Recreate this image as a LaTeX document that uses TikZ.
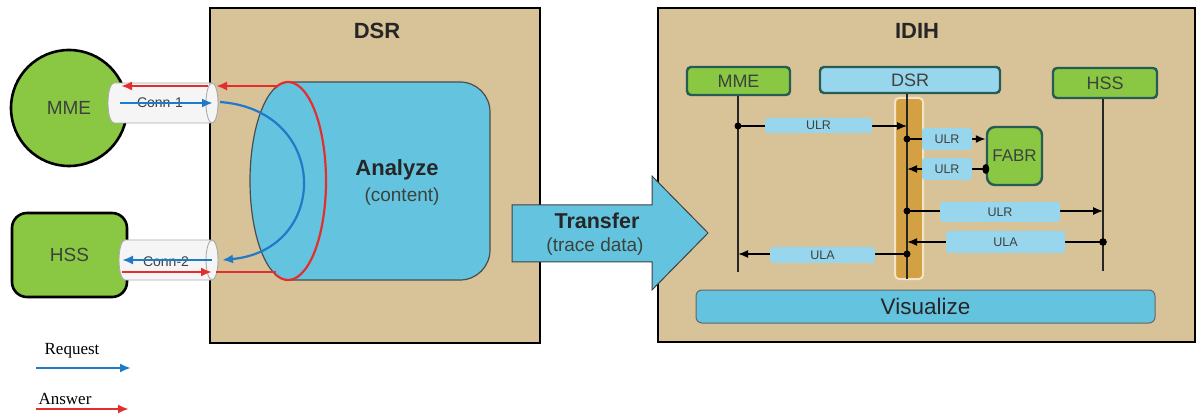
\documentclass[tikz,border=0pt]{standalone}
\usepackage{fontspec}
\setmainfont{Liberation Sans}
\newfontfamily\serifx{Liberation Serif}
\usetikzlibrary{arrows.meta}
\definecolor{tanbg}{RGB}{216,194,152}
\definecolor{cyanA}{RGB}{100,196,224}
\definecolor{cyanL}{RGB}{152,214,238}
\definecolor{greenA}{RGB}{138,200,68}
\definecolor{tealb}{RGB}{38,92,84}
\definecolor{orangeB}{RGB}{212,160,68}
\definecolor{creamB}{RGB}{242,228,196}
\definecolor{reqblue}{RGB}{32,122,200}
\definecolor{ansred}{RGB}{228,46,46}
\definecolor{txtg}{RGB}{60,66,60}
\tikzset{
  bigbox/.style={fill=tanbg,draw=black,line width=2.4pt},
  hdr/.style={draw=tealb,line width=2.4pt,rounded corners=4pt,text=txtg,font=\fontsize{18}{19}\selectfont,inner sep=0pt},
  lbl/.style={fill=cyanL,rounded corners=3pt,inner sep=0pt,text=txtg,font=\fontsize{12.5}{13}\selectfont},
  life/.style={line width=2pt,draw=black!85},
  msg/.style={line width=1.1pt,-{Latex[length=10pt,width=8pt]}},
  msgb/.style={line width=1.7pt,-{Latex[length=10pt,width=8pt]}},
  dotm/.style={fill=black},
  req/.style={draw=reqblue,line width=2.2pt,-{Latex[length=11pt,width=9pt]}},
  ans/.style={draw=ansred,line width=2.6pt,-{Latex[length=11pt,width=9pt]}},
  cyl/.style={fill=gray!8,draw=gray!65,line width=0.9pt},
  cyltxt/.style={text=txtg,font=\fontsize{14}{15}\selectfont,inner sep=0pt},
  bigtxt/.style={font=\bfseries\fontsize{22}{24}\selectfont,text=black!85},
  subtxt/.style={font=\fontsize{19}{21}\selectfont,text=txtg},
  legtxt/.style={font=\serifx\fontsize{17}{18}\selectfont}
}
\begin{document}
\begin{tikzpicture}[x=1pt,y=-1pt]
\useasboundingbox (0,0) rectangle (1197,414);
\fill[white] (0,0) rectangle (1197,414);

% ---------- left DSR ----------
\draw[bigbox] (210,8) rectangle (540,343);
\node[bigtxt] (dsrT) at (377,31) {DSR};

\path[fill=cyanA,draw=black!70,line width=1.2pt]
  (288,82) [rounded corners=30pt] -- (490,82) -- (490,280) [sharp corners] -- (288,280)
  arc[start angle=90,end angle=270,x radius=38,y radius=99] -- cycle;
\node[bigtxt] (anaT) at (397,170) {Analyze};
\node[subtxt] (anaC) at (402,197) {(content)};
\draw[ansred,line width=2.2pt] (288,181) ++(250:38 and 99) arc[start angle=250,end angle=470,x radius=38,y radius=99];

% ---------- external nodes ----------
\node[circle,minimum size=116pt,fill=greenA,draw=black,line width=2.6pt,inner sep=0pt,
      text=txtg,font=\fontsize{19}{20}\selectfont] (mme) at (69,108) {MME};
\node[rectangle,rounded corners=15pt,minimum width=115pt,minimum height=84pt,fill=greenA,
      draw=black,line width=2.6pt,text=txtg,font=\fontsize{19}{20}\selectfont] (hss) at (69.5,255) {HSS};

% ---------- cylinders ----------
\filldraw[cyl] (212,83) -- (114,83) arc[start angle=270,end angle=90,x radius=6,y radius=20]
   -- (212,123) arc[start angle=90,end angle=-90,x radius=6,y radius=20];
\draw[cyl] (212,103) ellipse[x radius=6,y radius=20];
\filldraw[cyl] (212,240) -- (125,240) arc[start angle=270,end angle=90,x radius=6,y radius=20]
   -- (212,280) arc[start angle=90,end angle=-90,x radius=6,y radius=20];
\draw[cyl] (212,260) ellipse[x radius=6,y radius=20];
\node[cyltxt] (c1) at (160,103) {Conn-1};
\node[cyltxt] (c2) at (166,262) {Conn-2};

% ---------- request / answer flows ----------
\coordinate (rq1a) at (120,103); \coordinate (rq1b) at (213,103);
\coordinate (arcA) at (220,102); \coordinate (arcB) at (222,260);
\coordinate (rq2a) at (212,260); \coordinate (rq2b) at (122,260);
\draw[req] (rq1a) -- (rq1b);
\draw[req] (arcA) .. controls (330,110) and (330,250) .. (arcB);
\draw[req] (rq2a) -- (rq2b);

\coordinate (an1) at (122,272); \coordinate (an2) at (212,272);
\coordinate (an3) at (216,272); \coordinate (an4) at (276,272);
\coordinate (an5) at (277,86); \coordinate (an6) at (216,86);
\coordinate (an7) at (208,86); \coordinate (an8) at (121,86);
\draw[ans] (an1) -- (an2);
\draw[ansred,line width=2.6pt] (an3) -- (an4);
\draw[ans] (an5) -- (an6);
\draw[ans] (an7) -- (an8);

% ---------- legend ----------
\node[legtxt] (lgr) at (72,351) {Request};
\coordinate (lr1) at (36,368); \coordinate (lr2) at (131,368);
\draw[req] (lr1) -- (lr2);
\node[legtxt] (lga) at (65,399) {Answer};
\coordinate (la1) at (36,409); \coordinate (la2) at (129,409);
\draw[ans] (la1) -- (la2);

% ---------- IDIH ----------
\draw[bigbox] (658,8) rectangle (1195,342);
\node[bigtxt] (idihT) at (917,31) {IDIH};

% transfer arrow
\path[fill=cyanA,draw=black!75,line width=1pt]
  (512,205) -- (652,205) -- (652,176) -- (708,233) -- (652,290) -- (652,262) -- (512,262) -- cycle;
\node[font=\bfseries\fontsize{21.5}{23}\selectfont,text=black!85] (trT) at (597,221) {Transfer};
\node[subtxt] (trC) at (595,247) {(trace data)};

% orange activation bar
\draw[fill=orangeB,draw=creamB,line width=2pt,rounded corners=4pt] (895,98) rectangle (923,279);

% headers
\node[hdr,fill=greenA,minimum width=103pt,minimum height=28pt] (mmeH) at (738.5,81) {MME};
\node[hdr,fill=cyanL,minimum width=180pt,minimum height=26pt] (dsrH) at (910,80) {DSR};
\node[hdr,fill=greenA,minimum width=104pt,minimum height=30pt] (hssH) at (1105,83) {HSS};
\node[hdr,fill=greenA,minimum width=55pt,minimum height=58pt,rounded corners=8pt,
      font=\fontsize{17}{18}\selectfont] (fabr) at (1014.5,156) {FABR};

% lifelines
\coordinate (mmeB) at (738,272);
\coordinate (dsrB) at (907,279);
\coordinate (hssB) at (1103,271);
\draw[life] (mmeH.south -| mmeB) -- (mmeB);
\draw[life] (dsrH.south -| dsrB) -- (dsrB);
\draw[life] (hssH.south -| hssB) -- (hssB);

% messages
\coordinate (m1a) at (738,126); \coordinate (m1b) at (907,126);
\coordinate (m2a) at (907,139); \coordinate (m2b) at (fabr.west |- 0,139);
\coordinate (m3a) at (fabr.west |- 0,169); \coordinate (m3b) at (907,169);
\coordinate (m4a) at (907,211); \coordinate (m4b) at (1103,211);
\coordinate (m5a) at (1103,242); \coordinate (m5b) at (907,242);
\coordinate (m6a) at (907,254); \coordinate (m6b) at (738,254);
\draw[msg] (m1a) -- (m1b);
\draw[msgb] (m2a) -- (m2b);
\draw[msgb] (m3a) -- (m3b);
\draw[msg] (m4a) -- (m4b);
\draw[msgb] (m5a) -- (m5b);
\draw[msgb] (m6a) -- (m6b);
\fill[dotm] (m1a) circle (3.5pt);
\fill[dotm] (m2a) circle (3.5pt);
\fill[dotm] (m3a) ellipse[x radius=3.5,y radius=5];
\fill[dotm] (m4a) circle (3.5pt);
\fill[dotm] (m5a) circle (3.8pt);
\fill[dotm] (m6a) circle (3.5pt);

\node[lbl,minimum width=107pt,minimum height=15pt] (l1) at (818.5,125.5) {ULR};
\node[lbl,minimum width=50pt,minimum height=22pt] (l2) at (947,139) {ULR};
\node[lbl,minimum width=50pt,minimum height=22pt] (l3) at (947,169) {ULR};
\node[lbl,minimum width=120pt,minimum height=20pt] (l4) at (1000,212) {ULR};
\node[lbl,minimum width=119pt,minimum height=22pt] (l5) at (1005.5,242) {ULA};
\node[lbl,minimum width=105pt,minimum height=16pt] (l6) at (822.5,255) {ULA};

% visualize
\node[fill=cyanA,draw=black!60,line width=1pt,rounded corners=6pt,minimum width=459pt,
      minimum height=33pt,font=\fontsize{22.5}{24}\selectfont,text=black!85] (vis) at (925.5,306.5) {Visualize};
\end{tikzpicture}
\end{document}
